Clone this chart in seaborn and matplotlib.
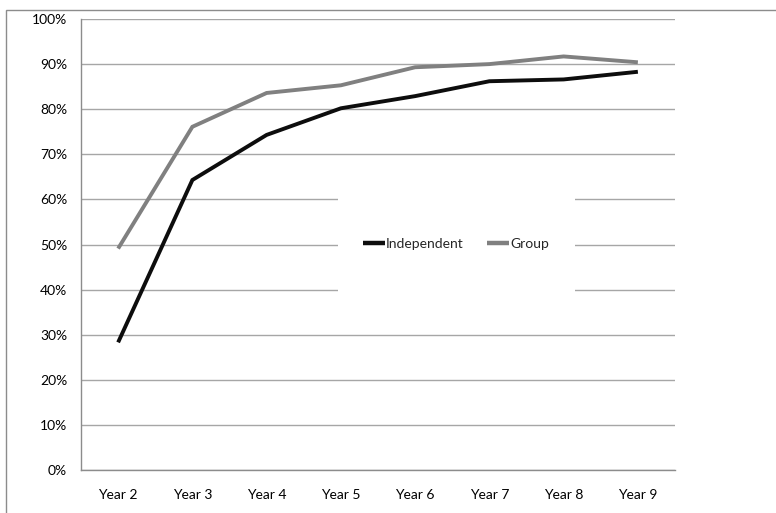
import matplotlib
matplotlib.use("Agg")
import matplotlib.pyplot as plt
from matplotlib.patches import Rectangle
from matplotlib.ticker import PercentFormatter, FixedLocator
from matplotlib.lines import Line2D
import pandas as pd
import seaborn as sns

years = ["Year 2", "Year 3", "Year 4", "Year 5", "Year 6", "Year 7", "Year 8", "Year 9"]
independent = [28.3, 64.3, 74.3, 80.2, 82.9, 86.2, 86.6, 88.3]
group = [49.1, 76.1, 83.6, 85.3, 89.3, 90.0, 91.7, 90.4]
series_names = ["Independent", "Group"]
series_colors = {"Independent": "#0d0d0d", "Group": "#808080"}

df = pd.DataFrame({
    "year": years * 2,
    "value": independent + group,
    "series": [series_names[0]] * len(years) + [series_names[1]] * len(years),
})
df["pos"] = df["year"].map({y: i for i, y in enumerate(years)})

sns.set_style("white")
plt.rcParams["font.family"] = ["Lato", "DejaVu Sans"]

W, H = 776, 513
fig = plt.figure(figsize=(W / 100, H / 100), dpi=100)
fig.patch.set_facecolor("white")

# outer chart border (clipped at the right and bottom)
fig.patches.append(Rectangle((6 / W, -0.1), 1.2, 1 - 10 / H + 0.1,
                             transform=fig.transFigure, fill=False,
                             edgecolor="#8c8c8c", linewidth=1.0, zorder=0))

left, right, top, bottom = 81, 675, 19, 470
ax = fig.add_axes([left / W, 1 - bottom / H, (right - left) / W, (bottom - top) / H])

sns.lineplot(data=df, x="pos", y="value", hue="series", palette=series_colors,
             hue_order=series_names, linewidth=2.8, ax=ax, legend=False,
             zorder=3)
for ln in ax.lines:
    ln.set_solid_capstyle("butt")
    ln.set_solid_joinstyle("miter")

ax.set_xlim(-0.5, len(years) - 0.5)
ax.set_ylim(0, 100)
ax.yaxis.set_major_locator(FixedLocator(list(range(0, 101, 10))))
ax.yaxis.set_major_formatter(PercentFormatter(decimals=0))
ax.set_xticks(range(len(years)))
ax.set_xticklabels(years)
ax.xaxis.set_minor_locator(FixedLocator([i - 0.5 for i in range(len(years) + 1)]))
ax.tick_params(axis="x", which="major", length=0, pad=14, labelsize=10, colors="#000000")
ax.tick_params(axis="x", which="minor", length=4, direction="out", color="#8c8c8c", width=1)
ax.tick_params(axis="y", which="major", length=4, direction="out",
               width=1, pad=6, labelsize=10, labelcolor="#000000", color="#8c8c8c")
ax.set_xlabel("")
ax.set_ylabel("")

ax.grid(axis="y", color="#a6a6a6", linewidth=1.0, zorder=1)
ax.grid(axis="x", visible=False)
ax.set_axisbelow(True)
for side in ["top", "right"]:
    ax.spines[side].set_visible(False)
for side in ["left", "bottom"]:
    ax.spines[side].set_color("#8c8c8c")
    ax.spines[side].set_linewidth(1.0)

# white legend area over the gridlines
lx0, lx1 = (338 - left) / (right - left), (575 - left) / (right - left)
ly0, ly1 = (bottom - 312) / (bottom - top), (bottom - 178) / (bottom - top)
ax.add_patch(Rectangle((lx0, ly0), lx1 - lx0, ly1 - ly0, transform=ax.transAxes,
                       facecolor="white", edgecolor="none", zorder=2))

handles = [Line2D([], [], color=series_colors[s], linewidth=3.2, solid_capstyle="butt")
           for s in series_names]
ax.legend(handles, series_names, loc="center", bbox_to_anchor=(0.631, 0.502),
          ncol=2, frameon=False, fontsize=10, handlelength=1.6, handletextpad=0.05,
          columnspacing=1.7)

fig.savefig("out.png", dpi=100, facecolor="white")
